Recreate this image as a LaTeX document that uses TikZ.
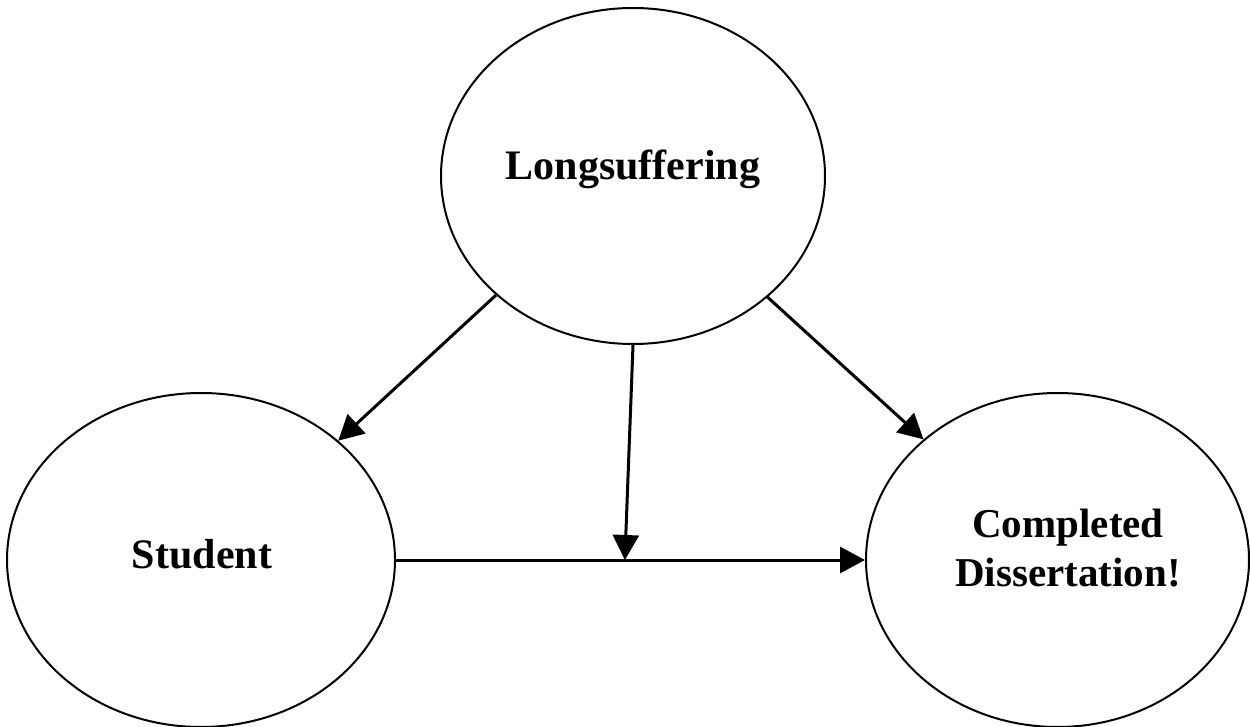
\documentclass[tikz,border=0pt]{standalone}
\usepackage{fontspec}
\setmainfont{Liberation Serif}
\usetikzlibrary{shapes.geometric,arrows.meta,calc}
\begin{document}
\begin{tikzpicture}[x=1pt,y=-1pt,
  bubble/.style={draw=black,line width=2pt,ellipse,inner sep=0pt},
  lbl/.style={font=\fontsize{42}{49}\selectfont\bfseries,inner sep=0pt,align=center},
  arr/.style={line width=3pt,-{Triangle[length=25pt,width=26pt]}}]
\useasboundingbox (0,0) rectangle (1250,727);
\node[bubble,minimum width=384pt,minimum height=336pt] (ls) at (633,176) {};
\node[bubble,minimum width=388pt,minimum height=334pt] (st) at (201,560) {};
\node[bubble,minimum width=383pt,minimum height=334pt] (cd) at (1057.5,560) {};
\node[lbl,anchor=base] (lst) at (633,180) {Longsuffering};
\node[lbl,anchor=base] (stt) at (202,568) {Student};
\node[lbl,anchor=center,font=\fontsize{41}{49}\selectfont\bfseries] (cdt) at (1068,548) {Completed\\Dissertation!};
\draw[arr] (ls.221) -- (st.41);
\draw[arr] (ls.318.6) -- (cd.138.9);
\draw[arr] (st.east) -- (cd.west);
\coordinate (m) at ($(st.east)!0.488!(cd.west)$);
\draw[arr] (ls.south) -- (m);
\end{tikzpicture}
\end{document}
